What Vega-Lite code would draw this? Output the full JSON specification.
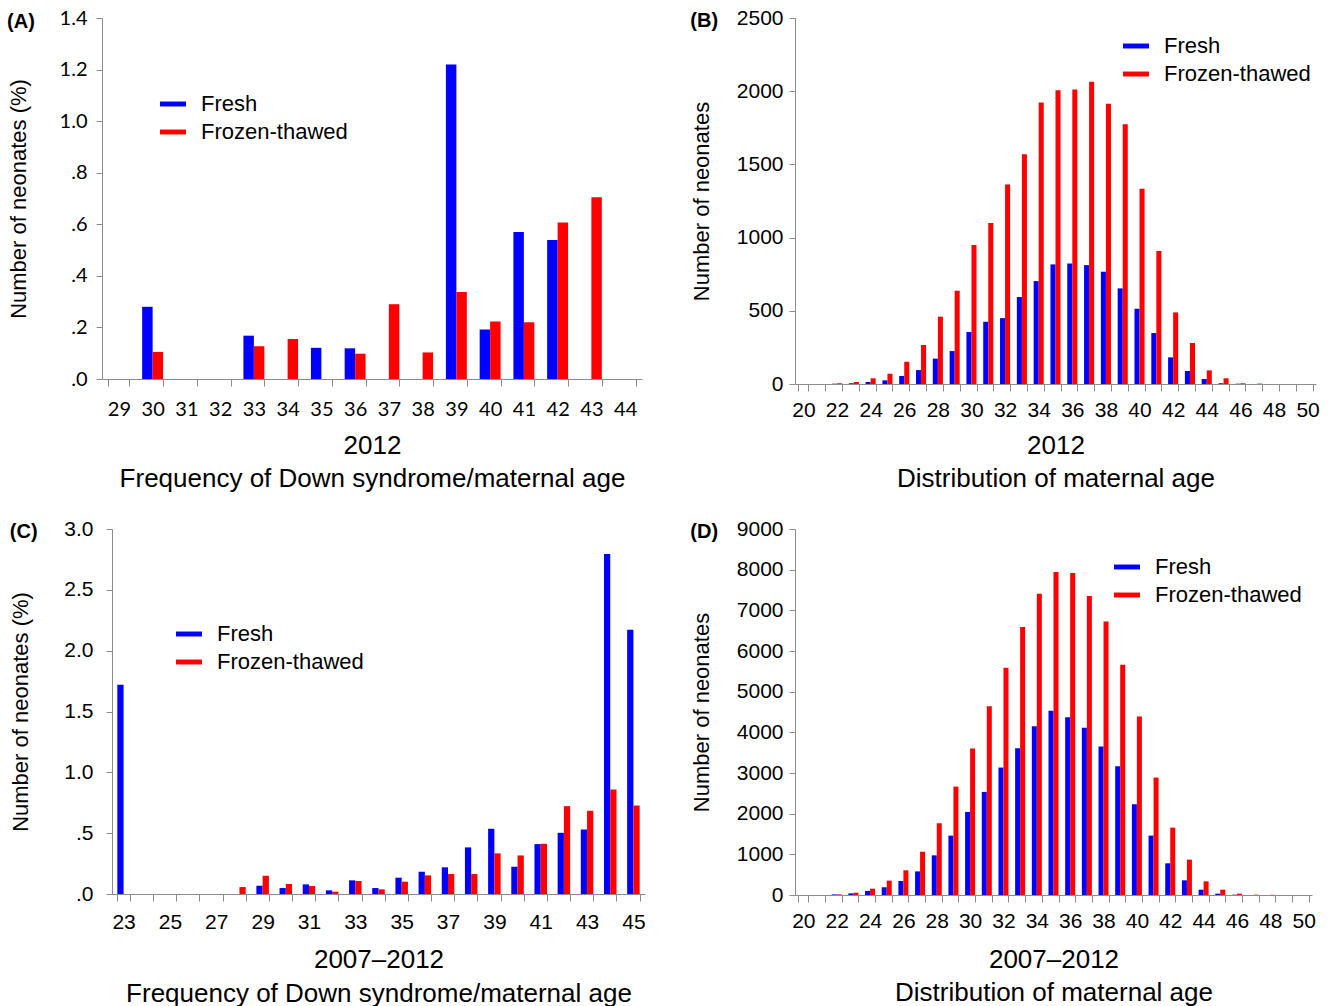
{
  "$schema": "https://vega.github.io/schema/vega-lite/v6.json",
  "background": "white",
  "padding": {"left": 7, "top": 7, "right": 8, "bottom": 4},
  "datasets": {
    "A": [
      {"age": 30, "group": "Fresh", "value": 0.28},
      {"age": 30, "group": "Frozen-thawed", "value": 0.105},
      {"age": 33, "group": "Fresh", "value": 0.168},
      {"age": 33, "group": "Frozen-thawed", "value": 0.127},
      {"age": 34, "group": "Frozen-thawed", "value": 0.155},
      {"age": 35, "group": "Fresh", "value": 0.121},
      {"age": 36, "group": "Fresh", "value": 0.119},
      {"age": 36, "group": "Frozen-thawed", "value": 0.098},
      {"age": 37, "group": "Frozen-thawed", "value": 0.29},
      {"age": 38, "group": "Frozen-thawed", "value": 0.103},
      {"age": 39, "group": "Fresh", "value": 1.22},
      {"age": 39, "group": "Frozen-thawed", "value": 0.337},
      {"age": 40, "group": "Fresh", "value": 0.192},
      {"age": 40, "group": "Frozen-thawed", "value": 0.223},
      {"age": 41, "group": "Fresh", "value": 0.57},
      {"age": 41, "group": "Frozen-thawed", "value": 0.22},
      {"age": 42, "group": "Fresh", "value": 0.539},
      {"age": 42, "group": "Frozen-thawed", "value": 0.607},
      {"age": 43, "group": "Frozen-thawed", "value": 0.705}
    ],
    "B": [
      {"age": 22, "group": "Fresh", "value": 2},
      {"age": 23, "group": "Fresh", "value": 5},
      {"age": 24, "group": "Fresh", "value": 14},
      {"age": 25, "group": "Fresh", "value": 25},
      {"age": 26, "group": "Fresh", "value": 55},
      {"age": 27, "group": "Fresh", "value": 95},
      {"age": 28, "group": "Fresh", "value": 173},
      {"age": 29, "group": "Fresh", "value": 225},
      {"age": 30, "group": "Fresh", "value": 355},
      {"age": 31, "group": "Fresh", "value": 425},
      {"age": 32, "group": "Fresh", "value": 450},
      {"age": 33, "group": "Fresh", "value": 594},
      {"age": 34, "group": "Fresh", "value": 703},
      {"age": 35, "group": "Fresh", "value": 817},
      {"age": 36, "group": "Fresh", "value": 823},
      {"age": 37, "group": "Fresh", "value": 812},
      {"age": 38, "group": "Fresh", "value": 767},
      {"age": 39, "group": "Fresh", "value": 653},
      {"age": 40, "group": "Fresh", "value": 514},
      {"age": 41, "group": "Fresh", "value": 348},
      {"age": 42, "group": "Fresh", "value": 182},
      {"age": 43, "group": "Fresh", "value": 89},
      {"age": 44, "group": "Fresh", "value": 34},
      {"age": 45, "group": "Fresh", "value": 5},
      {"age": 46, "group": "Fresh", "value": 2},
      {"age": 22, "group": "Frozen-thawed", "value": 5},
      {"age": 23, "group": "Frozen-thawed", "value": 14},
      {"age": 24, "group": "Frozen-thawed", "value": 39},
      {"age": 25, "group": "Frozen-thawed", "value": 70},
      {"age": 26, "group": "Frozen-thawed", "value": 152},
      {"age": 27, "group": "Frozen-thawed", "value": 266},
      {"age": 28, "group": "Frozen-thawed", "value": 460},
      {"age": 29, "group": "Frozen-thawed", "value": 637},
      {"age": 30, "group": "Frozen-thawed", "value": 949},
      {"age": 31, "group": "Frozen-thawed", "value": 1099},
      {"age": 32, "group": "Frozen-thawed", "value": 1363},
      {"age": 33, "group": "Frozen-thawed", "value": 1570},
      {"age": 34, "group": "Frozen-thawed", "value": 1922},
      {"age": 35, "group": "Frozen-thawed", "value": 2006},
      {"age": 36, "group": "Frozen-thawed", "value": 2011},
      {"age": 37, "group": "Frozen-thawed", "value": 2064},
      {"age": 38, "group": "Frozen-thawed", "value": 1915},
      {"age": 39, "group": "Frozen-thawed", "value": 1774},
      {"age": 40, "group": "Frozen-thawed", "value": 1333},
      {"age": 41, "group": "Frozen-thawed", "value": 908},
      {"age": 42, "group": "Frozen-thawed", "value": 489},
      {"age": 43, "group": "Frozen-thawed", "value": 280},
      {"age": 44, "group": "Frozen-thawed", "value": 93},
      {"age": 45, "group": "Frozen-thawed", "value": 39},
      {"age": 46, "group": "Frozen-thawed", "value": 5},
      {"age": 47, "group": "Frozen-thawed", "value": 3}
    ],
    "C": [
      {"age": 23, "group": "Fresh", "value": 1.72},
      {"age": 29, "group": "Fresh", "value": 0.068},
      {"age": 30, "group": "Fresh", "value": 0.049},
      {"age": 31, "group": "Fresh", "value": 0.079},
      {"age": 32, "group": "Fresh", "value": 0.03},
      {"age": 33, "group": "Fresh", "value": 0.112},
      {"age": 34, "group": "Fresh", "value": 0.049},
      {"age": 35, "group": "Fresh", "value": 0.134},
      {"age": 36, "group": "Fresh", "value": 0.183},
      {"age": 37, "group": "Fresh", "value": 0.219},
      {"age": 38, "group": "Fresh", "value": 0.383},
      {"age": 39, "group": "Fresh", "value": 0.536},
      {"age": 40, "group": "Fresh", "value": 0.224},
      {"age": 41, "group": "Fresh", "value": 0.41},
      {"age": 42, "group": "Fresh", "value": 0.503},
      {"age": 43, "group": "Fresh", "value": 0.53},
      {"age": 44, "group": "Fresh", "value": 2.795},
      {"age": 45, "group": "Fresh", "value": 2.171},
      {"age": 28, "group": "Frozen-thawed", "value": 0.057},
      {"age": 29, "group": "Frozen-thawed", "value": 0.15},
      {"age": 30, "group": "Frozen-thawed", "value": 0.082},
      {"age": 31, "group": "Frozen-thawed", "value": 0.066},
      {"age": 32, "group": "Frozen-thawed", "value": 0.019},
      {"age": 33, "group": "Frozen-thawed", "value": 0.107},
      {"age": 34, "group": "Frozen-thawed", "value": 0.038},
      {"age": 35, "group": "Frozen-thawed", "value": 0.101},
      {"age": 36, "group": "Frozen-thawed", "value": 0.153},
      {"age": 37, "group": "Frozen-thawed", "value": 0.164},
      {"age": 38, "group": "Frozen-thawed", "value": 0.164},
      {"age": 39, "group": "Frozen-thawed", "value": 0.334},
      {"age": 40, "group": "Frozen-thawed", "value": 0.317},
      {"age": 41, "group": "Frozen-thawed", "value": 0.413},
      {"age": 42, "group": "Frozen-thawed", "value": 0.722},
      {"age": 43, "group": "Frozen-thawed", "value": 0.684},
      {"age": 44, "group": "Frozen-thawed", "value": 0.859},
      {"age": 45, "group": "Frozen-thawed", "value": 0.727}
    ],
    "D": [
      {"age": 22, "group": "Fresh", "value": 15},
      {"age": 23, "group": "Fresh", "value": 40},
      {"age": 24, "group": "Fresh", "value": 100},
      {"age": 25, "group": "Fresh", "value": 190},
      {"age": 26, "group": "Fresh", "value": 345},
      {"age": 27, "group": "Fresh", "value": 580},
      {"age": 28, "group": "Fresh", "value": 975},
      {"age": 29, "group": "Fresh", "value": 1460},
      {"age": 30, "group": "Fresh", "value": 2043},
      {"age": 31, "group": "Fresh", "value": 2535},
      {"age": 32, "group": "Fresh", "value": 3134},
      {"age": 33, "group": "Fresh", "value": 3610},
      {"age": 34, "group": "Fresh", "value": 4151},
      {"age": 35, "group": "Fresh", "value": 4529},
      {"age": 36, "group": "Fresh", "value": 4373},
      {"age": 37, "group": "Fresh", "value": 4110},
      {"age": 38, "group": "Fresh", "value": 3651},
      {"age": 39, "group": "Fresh", "value": 3167},
      {"age": 40, "group": "Fresh", "value": 2232},
      {"age": 41, "group": "Fresh", "value": 1460},
      {"age": 42, "group": "Fresh", "value": 779},
      {"age": 43, "group": "Fresh", "value": 361},
      {"age": 44, "group": "Fresh", "value": 131},
      {"age": 45, "group": "Fresh", "value": 33},
      {"age": 46, "group": "Fresh", "value": 8},
      {"age": 22, "group": "Frozen-thawed", "value": 16},
      {"age": 23, "group": "Frozen-thawed", "value": 57},
      {"age": 24, "group": "Frozen-thawed", "value": 156},
      {"age": 25, "group": "Frozen-thawed", "value": 353},
      {"age": 26, "group": "Frozen-thawed", "value": 607},
      {"age": 27, "group": "Frozen-thawed", "value": 1066},
      {"age": 28, "group": "Frozen-thawed", "value": 1764},
      {"age": 29, "group": "Frozen-thawed", "value": 2666},
      {"age": 30, "group": "Frozen-thawed", "value": 3602},
      {"age": 31, "group": "Frozen-thawed", "value": 4644},
      {"age": 32, "group": "Frozen-thawed", "value": 5587},
      {"age": 33, "group": "Frozen-thawed", "value": 6588},
      {"age": 34, "group": "Frozen-thawed", "value": 7408},
      {"age": 35, "group": "Frozen-thawed", "value": 7941},
      {"age": 36, "group": "Frozen-thawed", "value": 7917},
      {"age": 37, "group": "Frozen-thawed", "value": 7351},
      {"age": 38, "group": "Frozen-thawed", "value": 6727},
      {"age": 39, "group": "Frozen-thawed", "value": 5661},
      {"age": 40, "group": "Frozen-thawed", "value": 4389},
      {"age": 41, "group": "Frozen-thawed", "value": 2888},
      {"age": 42, "group": "Frozen-thawed", "value": 1657},
      {"age": 43, "group": "Frozen-thawed", "value": 870},
      {"age": 44, "group": "Frozen-thawed", "value": 336},
      {"age": 45, "group": "Frozen-thawed", "value": 131},
      {"age": 46, "group": "Frozen-thawed", "value": 33},
      {"age": 47, "group": "Frozen-thawed", "value": 8},
      {"age": 48, "group": "Frozen-thawed", "value": 5}
    ]
  },
  "columns": 2,
  "align": "none",
  "spacing": {"row": 27, "column": 44},
  "resolve": {"scale": {"x": "independent", "xOffset": "independent", "y": "independent", "color": "independent"}, "legend": {"color": "independent"}},
  "concat": [
    {
      "data": {"name": "A"},
      "width": 540,
      "height": 361,
      "title": {"text": "(A)", "anchor": "start", "frame": "bounds", "fontSize": 20, "fontWeight": "bold", "offset": -24},
      "mark": {"type": "bar"},
      "encoding": {
        "x": {"field": "age", "type": "ordinal",
          "scale": {"domain": [29,30,31,32,33,34,35,36,37,38,39,40,41,42,43,44], "paddingInner": 0.38, "paddingOuter": 0.19},
          "axis": {"title": ["2012", "Frequency of Down syndrome/maternal age"], "labelFont": "Lato", "labelFontSize": 20, "labelPadding": 13, "titlePadding": 13}},
        "xOffset": {"field": "group", "scale": {"domain": ["Fresh", "Frozen-thawed"]}},
        "y": {"field": "value", "type": "quantitative",
          "scale": {"domain": [0, 1.4]},
          "axis": {"values": [0,0.2,0.4,0.6,0.8,1.0,1.2,1.4], "title": "Number of neonates (%)", "labelFont": "Lato", "labelFontSize": 20, "labelPadding": 9, "titlePadding": 29,
            "labelExpr": "datum.value < 1 ? replace(format(datum.value, '.1f'), '0.', '.') : format(datum.value, '.1f')"}},
        "color": {"field": "group", "type": "nominal",
          "scale": {"domain": ["Fresh", "Frozen-thawed"], "range": ["#0000FF", "#FF0000"]},
          "legend": {"title": null, "orient": "none", "legendX": 58, "legendY": 73}}
      }
    },
    {
      "data": {"name": "B"},
      "width": 521,
      "height": 366,
      "title": {"text": "(B)", "anchor": "start", "frame": "bounds", "fontSize": 20, "fontWeight": "bold", "offset": -24},
      "mark": {"type": "bar"},
      "encoding": {
        "x": {"field": "age", "type": "ordinal",
          "scale": {"domain": [20,21,22,23,24,25,26,27,28,29,30,31,32,33,34,35,36,37,38,39,40,41,42,43,44,45,46,47,48,49,50], "paddingInner": 0.4, "paddingOuter": 0.2},
          "axis": {"title": ["2012", "Distribution of maternal age"], "labelPadding": 8, "titlePadding": 12, "labelExpr": "datum.value % 2 == 0 ? datum.label : ''"}},
        "xOffset": {"field": "group", "scale": {"domain": ["Fresh", "Frozen-thawed"]}},
        "y": {"field": "value", "type": "quantitative",
          "scale": {"domain": [0, 2500]},
          "axis": {"values": [0,500,1000,1500,2000,2500], "format": "d", "title": "Number of neonates", "labelPadding": 6, "titlePadding": 23}},
        "color": {"field": "group", "type": "nominal",
          "scale": {"domain": ["Fresh", "Frozen-thawed"], "range": ["#0000FF", "#FF0000"]},
          "legend": {"title": null, "orient": "none", "legendX": 328, "legendY": 15}}
      }
    },
    {
      "data": {"name": "C"},
      "width": 543,
      "height": 365,
      "title": {"text": "(C)", "anchor": "start", "frame": "bounds", "fontSize": 20, "fontWeight": "bold", "offset": -24},
      "mark": {"type": "bar"},
      "encoding": {
        "x": {"field": "age", "type": "ordinal",
          "scale": {"domain": [23,24,25,26,27,28,29,30,31,32,33,34,35,36,37,38,39,40,41,42,43,44,45], "range": [10, 543], "paddingInner": 0.46, "paddingOuter": 0.23},
          "axis": {"title": ["2007\u20132012", "Frequency of Down syndrome/maternal age"], "labelPadding": 10, "titlePadding": 14, "titleLineHeight": 34, "labelExpr": "datum.value % 2 == 1 ? datum.label : ''"}},
        "xOffset": {"field": "group", "scale": {"domain": ["Fresh", "Frozen-thawed"]}},
        "y": {"field": "value", "type": "quantitative",
          "scale": {"domain": [0, 3]},
          "axis": {"values": [0,0.5,1,1.5,2,2.5,3], "title": "Number of neonates (%)", "offset": -10, "labelPadding": 13, "titlePadding": 31,
            "labelExpr": "datum.value < 1 ? replace(format(datum.value, '.1f'), '0.', '.') : format(datum.value, '.1f')"}},
        "color": {"field": "group", "type": "nominal",
          "scale": {"domain": ["Fresh", "Frozen-thawed"], "range": ["#0000FF", "#FF0000"]},
          "legend": {"title": null, "orient": "none", "legendX": 74, "legendY": 92}}
      }
    },
    {
      "data": {"name": "D"},
      "width": 517,
      "height": 366,
      "title": {"text": "(D)", "anchor": "start", "frame": "bounds", "fontSize": 20, "fontWeight": "bold", "offset": -24},
      "mark": {"type": "bar"},
      "encoding": {
        "x": {"field": "age", "type": "ordinal",
          "scale": {"domain": [20,21,22,23,24,25,26,27,28,29,30,31,32,33,34,35,36,37,38,39,40,41,42,43,44,45,46,47,48,49,50], "paddingInner": 0.4, "paddingOuter": 0.2},
          "axis": {"title": ["2007\u20132012", "Distribution of maternal age"], "labelPadding": 8, "titlePadding": 15, "labelExpr": "datum.value % 2 == 0 ? datum.label : ''"}},
        "xOffset": {"field": "group", "scale": {"domain": ["Fresh", "Frozen-thawed"]}},
        "y": {"field": "value", "type": "quantitative",
          "scale": {"domain": [0, 9000]},
          "axis": {"values": [0,1000,2000,3000,4000,5000,6000,7000,8000,9000], "format": "d", "title": "Number of neonates", "labelPadding": 6, "titlePadding": 23}},
        "color": {"field": "group", "type": "nominal",
          "scale": {"domain": ["Fresh", "Frozen-thawed"], "range": ["#0000FF", "#FF0000"]},
          "legend": {"title": null, "orient": "none", "legendX": 319, "legendY": 25}}
      }
    }
  ],
  "config": {
    "font": "Liberation Sans",
    "view": {"stroke": null},
    "title": {"font": "Liberation Sans", "color": "#000"},
    "axis": {
      "grid": false,
      "domainColor": "#8c8c8c",
      "tickColor": "#8c8c8c",
      "labelColor": "#000",
      "titleColor": "#000",
      "labelFont": "Liberation Sans",
      "titleFont": "Liberation Sans",
      "labelFontSize": 21,
      "titleFontSize": 22,
      "titleFontWeight": "normal"
    },
    "axisX": {"tickSize": 7, "labelAngle": 0, "tickBand": "extent", "titleFontSize": 26, "titleLineHeight": 33},
    "axisY": {"tickSize": 6},
    "legend": {
      "symbolType": "M-1,-0.19L1,-0.19L1,0.19L-1,0.19Z",
      "symbolSize": 676,
      "symbolStrokeWidth": 0,
      "labelFontSize": 22,
      "labelFont": "Liberation Sans",
      "labelColor": "#000",
      "labelOffset": 15,
      "rowPadding": 4
    }
  }
}
